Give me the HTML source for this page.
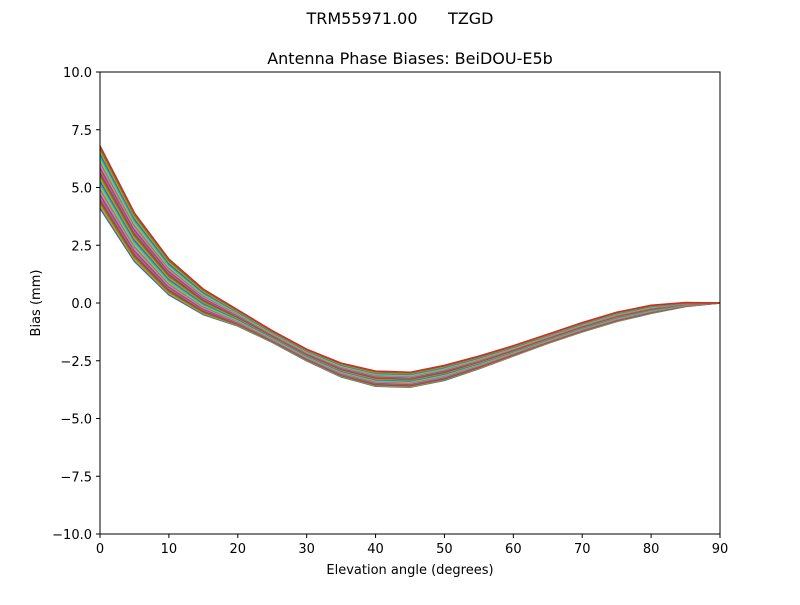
<!DOCTYPE html>
<html><head><meta charset="utf-8">
<style>
body{margin:0;background:#fff;}
svg text{font-family:"DejaVu Sans","Liberation Sans",sans-serif;fill:#000;}
</style></head>
<body>
<svg id="s" width="800" height="600" xmlns="http://www.w3.org/2000/svg">
<rect width="800" height="600" fill="#fff"/>
<text x="400" y="24" font-size="16" text-anchor="middle">TRM55971.00&#160;&#160;&#160;&#160;&#160;&#160;TZGD</text>
<text x="410" y="64" font-size="16" text-anchor="middle">Antenna Phase Biases: BeiDOU-E5b</text>
<g id="lines"></g>
<rect x="100" y="72" width="620" height="462" fill="none" stroke="#000" stroke-width="1"/>
<g id="ticks" font-size="13"></g>
<text x="410" y="574" font-size="13" text-anchor="middle">Elevation angle (degrees)</text>
<text transform="translate(40,303) rotate(-90)" font-size="13" text-anchor="middle">Bias (mm)</text>
</svg>
<script>
(function(){
var NS="http://www.w3.org/2000/svg";
function X(v){return 100+v*620/90;}
function Y(v){return 303-v*23.1;}
var upper=[6.8,3.9,1.9,0.6,-0.3,-1.2,-2.0,-2.6,-2.95,-3.0,-2.7,-2.3,-1.85,-1.35,-0.85,-0.4,-0.1,0.02,0];
var lower=[4.1,1.8,0.35,-0.5,-1.0,-1.7,-2.5,-3.2,-3.6,-3.65,-3.35,-2.85,-2.3,-1.75,-1.25,-0.8,-0.45,-0.15,0];
var cols=["#1f77b4","#ff7f0e","#2ca02c","#d62728","#9467bd","#8c564b","#e377c2","#7f7f7f","#bcbd22","#17becf"];
var L=document.getElementById("lines"),T=document.getElementById("ticks");
function el(n,a,txt){var e=document.createElementNS(NS,n);for(var k in a)e.setAttribute(k,a[k]);if(txt!==undefined)e.textContent=txt;return e;}
var N=24;
for(var k=0;k<N;k++){var t=k/(N-1),p=[];
for(var i=0;i<19;i++){var v=lower[i]+(upper[i]-lower[i])*t;p.push(X(i*5).toFixed(1)+","+Y(v).toFixed(1));}
L.appendChild(el("polyline",{points:p.join(" "),fill:"none",stroke:cols[k%10],"stroke-width":"1.5"}));}
for(var v=0;v<=90;v+=10){var x=X(v);
T.appendChild(el("line",{x1:x,y1:534,x2:x,y2:538,stroke:"#000"}));
T.appendChild(el("text",{x:x,y:553,"text-anchor":"middle"},String(v)));}
for(var w=-10;w<=10;w+=2.5){var y=Y(w);
T.appendChild(el("line",{x1:96,y1:y,x2:100,y2:y,stroke:"#000"}));
T.appendChild(el("text",{x:92,y:y+5,"text-anchor":"end"},(w<0?"\u2212":"")+Math.abs(w).toFixed(1)));}
})();
</script>
</body></html>
